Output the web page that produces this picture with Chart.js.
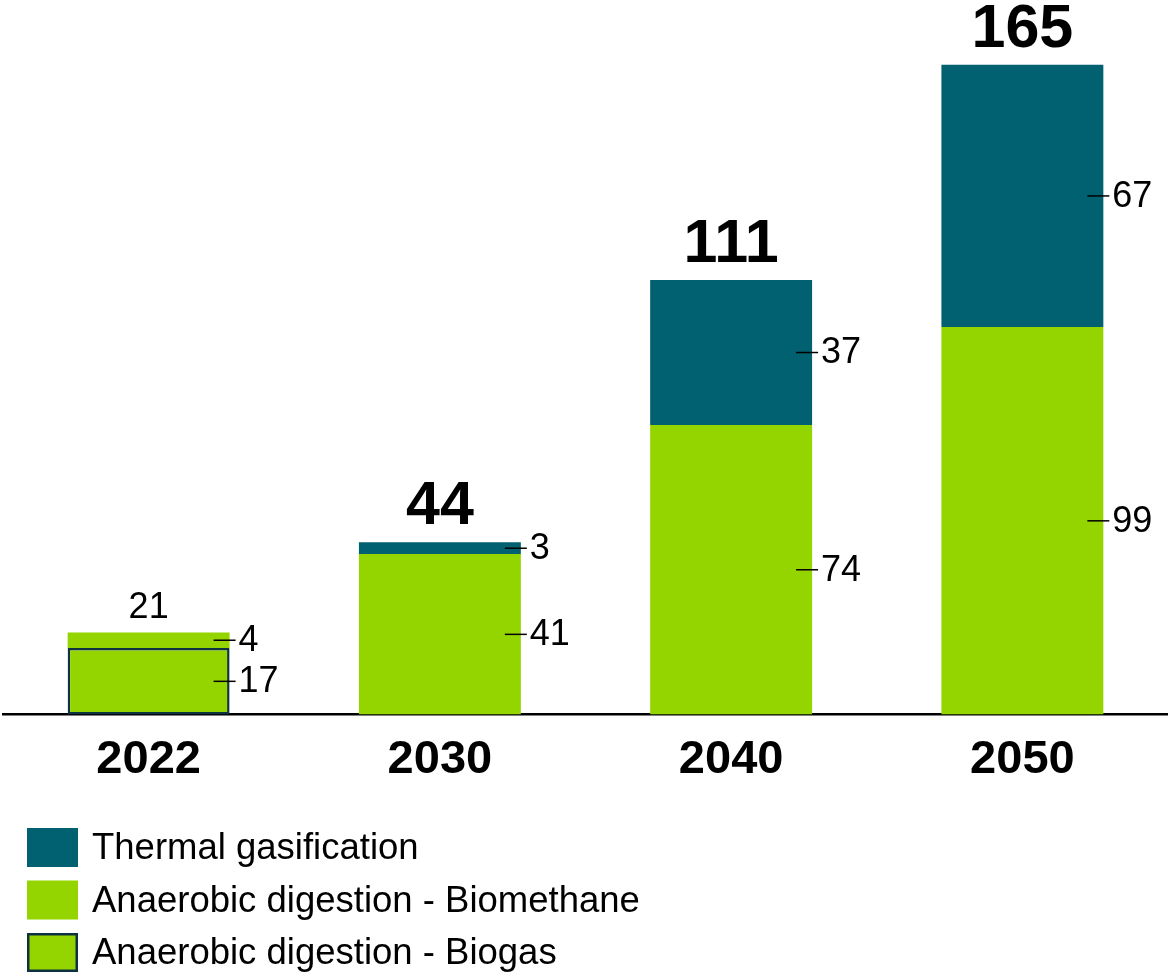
<!DOCTYPE html>
<html>
<head>
<meta charset="utf-8">
<script src="https://cdn.jsdelivr.net/npm/chart.js@4/dist/chart.umd.min.js"></script>
<style>
  html, body { margin: 0; padding: 0; background: #fff; }
  #wrap { position: relative; width: 1168px; height: 975px; }
</style>
</head>
<body>
<div id="wrap"><canvas id="Chart"></canvas></div>
<script>
// years on the x axis
const years = ['2022', '2030', '2040', '2050'];
// stacked values, bottom to top
const biogas = [17, null, null, null];
const biomethane = [4, 41, 74, 99];
const thermal = [null, 3, 37, 67];
// totals printed above the bars (segments are rounded, so 2050 reads 165)
const totals = [21, 44, 111, 165];
// the 2022 total is printed in regular weight, the rest in bold
const totalBold = [false, true, true, true];

const TEAL = '#026170';
const GREEN = '#94D500';
const EDGE = '#0E3340';
const FONT = "'Liberation Sans', Arial, sans-serif";

// value labels beside each segment plus the totals above each bar
const barLabels = {
  id: 'barLabels',
  afterDatasetsDraw(chart) {
    const ctx = chart.ctx;
    ctx.save();
    ctx.fillStyle = '#000';
    ctx.strokeStyle = '#000';
    ctx.lineWidth = 1.5;
    ctx.textBaseline = 'middle';
    ctx.textAlign = 'left';
    ctx.font = '36px ' + FONT;
    const tops = years.map(() => Infinity);
    chart.data.datasets.forEach((ds, di) => {
      const meta = chart.getDatasetMeta(di);
      meta.data.forEach((bar, i) => {
        const v = ds.data[i];
        if (v == null) return;
        const p = bar.getProps(['x', 'y', 'base', 'width'], true);
        tops[i] = Math.min(tops[i], p.y);
        const mid = (p.y + p.base) / 2;
        const right = p.x + p.width / 2;
        ctx.beginPath();
        ctx.moveTo(right - 16, mid);
        ctx.lineTo(right + 6, mid);
        ctx.stroke();
        ctx.fillText(String(v), right + 9, mid + 1);
      });
    });

    // totals
    const xs = chart.scales.x;
    ctx.textAlign = 'center';
    ctx.textBaseline = 'alphabetic';
    totals.forEach((t, i) => {
      if (totalBold[i]) {
        ctx.font = 'bold 61px ' + FONT;
        ctx.fillText(String(t), xs.getPixelForValue(i), tops[i] - 18);
      } else {
        ctx.font = '36px ' + FONT;
        ctx.fillText(String(t), xs.getPixelForValue(i), tops[i] - 14);
      }
    });
    ctx.restore();
  }
};

// vertical legend under the axis, top series first
const sideLegend = {
  id: 'sideLegend',
  afterDraw(chart) {
    const ctx = chart.ctx;
    ctx.save();
    ctx.font = '36.5px ' + FONT;
    ctx.textBaseline = 'middle';
    ctx.textAlign = 'left';
    const items = chart.data.datasets.slice().reverse();
    items.forEach((ds, k) => {
      const top = 828 + k * 52.5;
      ctx.fillStyle = ds.backgroundColor;
      ctx.fillRect(27, top, 51, 39);
      if (ds.borderWidth) {
        ctx.strokeStyle = ds.borderColor;
        ctx.lineWidth = 2.5;
        ctx.strokeRect(28.25, top + 1.25, 48.5, 36.5);
      }
      ctx.fillStyle = '#000';
      ctx.fillText(ds.label, 92, top + 21);
    });
    ctx.restore();
  }
};

const lineCtx = document.getElementById('Chart');
new Chart(lineCtx, {
  type: 'bar',
  data: {
    labels: years,
    datasets: [
      {
        label: 'Anaerobic digestion - Biogas',
        data: biogas,
        backgroundColor: GREEN,
        borderColor: EDGE,
        borderWidth: 2.5,
        borderSkipped: false
      },
      {
        label: 'Anaerobic digestion - Biomethane',
        data: biomethane,
        backgroundColor: GREEN,
        borderWidth: 0
      },
      {
        label: 'Thermal gasification',
        data: thermal,
        backgroundColor: TEAL,
        borderWidth: 0
      }
    ]
  },
  options: {
    responsive: true,
    maintainAspectRatio: false,
    animation: false,
    barPercentage: 0.556,
    categoryPercentage: 1,
    layout: { padding: { top: 10, left: 3, right: 0, bottom: 170 } },
    plugins: {
      legend: { display: false },
      tooltip: { enabled: false }
    },
    scales: {
      x: {
        stacked: true,
        grid: { display: false, drawTicks: false },
        border: { display: true, color: '#000', width: 2.5 },
        ticks: {
          color: '#000',
          padding: 17,
          font: { family: FONT, size: 47, weight: 'bold', lineHeight: 1.2 }
        }
      },
      y: {
        stacked: true,
        display: false,
        min: 0,
        max: 180
      }
    }
  },
  plugins: [barLabels, sideLegend]
});
</script>
</body>
</html>
